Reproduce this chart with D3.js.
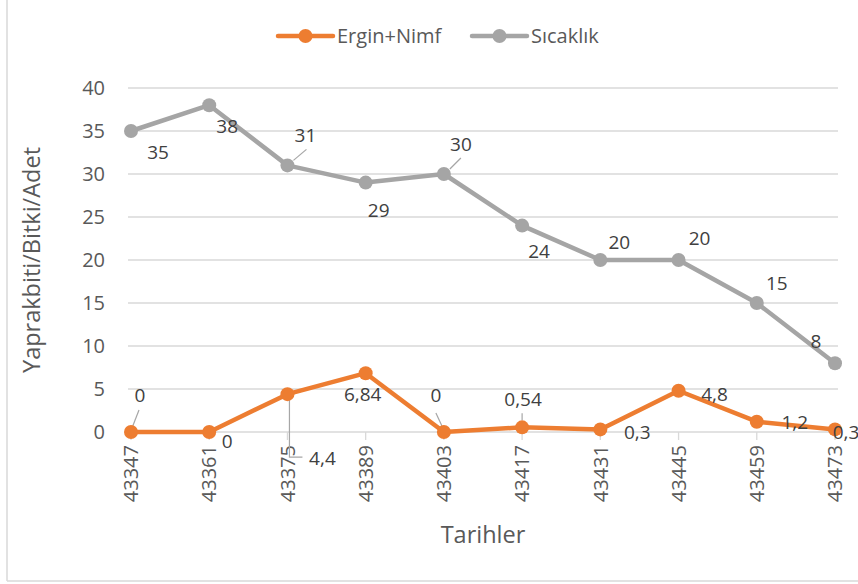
<!DOCTYPE html>
<html><head><meta charset="utf-8">
<script src="https://cdn.jsdelivr.net/npm/d3@7"></script>
<style>html,body{margin:0;padding:0;background:#fff;}svg{display:block;font-family:"Open Sans",sans-serif;}</style>
</head><body>
<svg id="c" width="858" height="584"></svg>
<script>
const categories = ["43347","43361","43375","43389","43403","43417","43431","43445","43459","43473"];
const erginNimf = [0, 0, 4.4, 6.84, 0, 0.54, 0.3, 4.8, 1.2, 0.3];
const sicaklik = [35, 38, 31, 29, 30, 24, 20, 20, 15, 8];
const erginLabels = ["0","0","4,4","6,84","0","0,54","0,3","4,8","1,2","0,3"];
const sicaklikLabels = ["35","38","31","29","30","24","20","20","15","8"];
const yTicks = [0,5,10,15,20,25,30,35,40];
const seriesNames = ["Ergin+Nimf","Sıcaklık"];
const seriesColors = ["#ED7D31","#A5A5A5"];

// label placement offsets (layout, relative to point)
const erginOff = [[9,-37],[18,9],[35,64],[-3,21],[-8,-37],[1,-28],[37,3],[36,3],[38,0],[11,3]];
const sicOff = [[27,21],[18,21],[18,-30],[13,28],[17,-30],[17,26],[19,-18],[21,-22],[20,-20],[-19,-22]];
// leader lines: [seriesIndex, pointIndex, points relative to point]
const leaders = [
  [0,0,[[1,-4],[8,-22]]],
  [0,2,[[2,1],[2,63],[15,63]]],
  [0,4,[[-1,-4],[-8,-19]]],
  [0,5,[[0,-7],[0,-14]]],
  [1,2,[[6,-5],[19,-16]]],
  [1,4,[[6,-5],[17,-16]]]
];

const svg = d3.select("#c");
const W = 858, H = 584;
const x = d3.scalePoint().domain(categories).range([131, 835]);
const y = d3.scaleLinear().domain([0, 40]).range([432, 88]);

// outer border (partial, as in reference)
svg.append("line").attr("x1",7).attr("x2",7).attr("y1",0).attr("y2",581).attr("stroke","#D9D9D9").attr("stroke-width",1.5);
svg.append("line").attr("x1",7).attr("x2",W).attr("y1",581).attr("y2",581).attr("stroke","#D9D9D9").attr("stroke-width",1.5);

// gridlines
svg.append("g").selectAll("line").data(yTicks).join("line")
  .attr("x1",128).attr("x2",838).attr("y1",d=>y(d)).attr("y2",d=>y(d))
  .attr("stroke","#D9D9D9").attr("stroke-width",1.3);

// y axis labels
svg.append("g").selectAll("text").data(yTicks).join("text")
  .attr("x",105).attr("y",d=>y(d)).attr("dy","0.36em").attr("text-anchor","end")
  .attr("font-size",20).attr("fill","#595959").text(d=>d);

// x tick marks
svg.append("g").selectAll("line").data(categories).join("line")
  .attr("x1",d=>x(d)).attr("x2",d=>x(d)).attr("y1",432).attr("y2",440)
  .attr("stroke","#D9D9D9").attr("stroke-width",1.3);

// x labels rotated
svg.append("g").selectAll("text").data(categories).join("text")
  .attr("transform",d=>`translate(${x(d)},445) rotate(-90)`)
  .attr("text-anchor","end").attr("dy","0.36em")
  .attr("font-size",20).attr("fill","#595959").text(d=>d);

// axis titles
svg.append("text").attr("transform","translate(40,260) rotate(-90)").attr("text-anchor","middle")
  .attr("font-size",23.5).attr("fill","#595959").text("Yaprakbiti/Bitki/Adet");
svg.append("text").attr("x",483).attr("y",543).attr("text-anchor","middle")
  .attr("font-size",23.5).attr("fill","#595959").text("Tarihler");

// leaders
const seriesData = [erginNimf, sicaklik];
leaders.forEach(([s,i,pts])=>{
  const px = x(categories[i]), py = y(seriesData[s][i]);
  svg.append("path").attr("d", d3.line()(pts.map(p=>[px+p[0],py+p[1]])))
    .attr("fill","none").attr("stroke","#A6A6A6").attr("stroke-width",1.2);
});

// lines & markers
const line = d3.line().x((d,i)=>x(categories[i])).y(d=>y(d));
[sicaklik, erginNimf].forEach((data,k)=>{
  const col = k===0 ? seriesColors[1] : seriesColors[0];
  svg.append("path").datum(data).attr("d",line).attr("fill","none")
    .attr("stroke",col).attr("stroke-width",4.5).attr("stroke-linejoin","round").attr("stroke-linecap","round");
  svg.append("g").selectAll("circle").data(data).join("circle")
    .attr("cx",(d,i)=>x(categories[i])).attr("cy",d=>y(d)).attr("r",7).attr("fill",col);
});

// data labels
function labels(data, texts, off){
  svg.append("g").selectAll("text").data(data).join("text")
    .attr("x",(d,i)=>x(categories[i])+off[i][0]).attr("y",(d,i)=>y(d)+off[i][1])
    .attr("text-anchor","middle").attr("dy","0.36em").attr("font-size",19).attr("fill","#404040")
    .text((d,i)=>texts[i]);
}
labels(sicaklik, sicaklikLabels, sicOff);
labels(erginNimf, erginLabels, erginOff);

// legend
const leg = [[278,seriesNames[0],seriesColors[0]],[472,seriesNames[1],seriesColors[1]]];
leg.forEach(([lx,name,col])=>{
  const g = svg.append("g");
  g.append("line").attr("x1",lx).attr("x2",lx+55).attr("y1",36).attr("y2",36).attr("stroke",col).attr("stroke-width",4.5).attr("stroke-linecap","round");
  g.append("circle").attr("cx",lx+27.5).attr("cy",36).attr("r",7).attr("fill",col);
  g.append("text").attr("x",lx+59).attr("y",36).attr("dy","0.36em").attr("font-size",20).attr("fill","#595959").text(name);
});
</script>
</body></html>
